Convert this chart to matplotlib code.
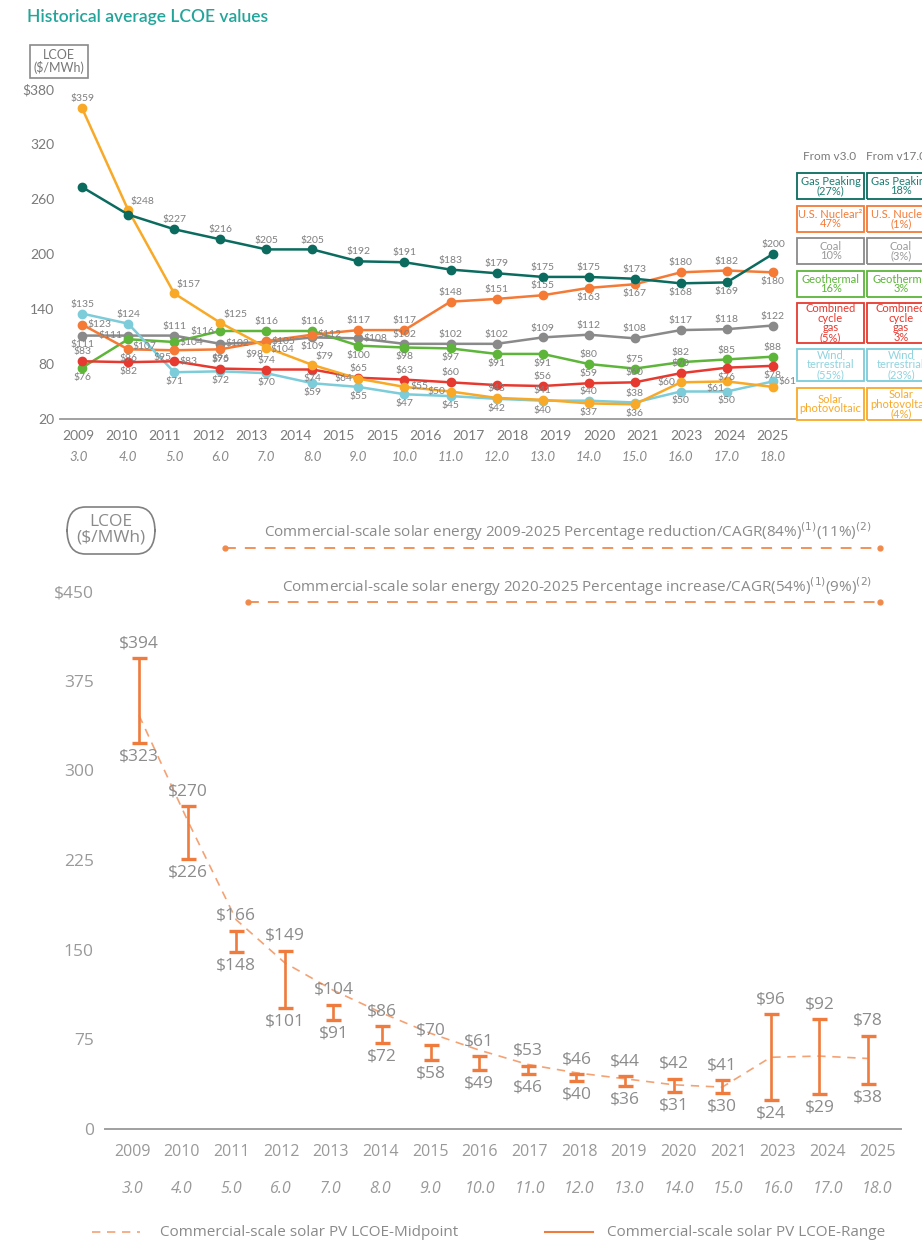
import numpy as np
import matplotlib
matplotlib.use("Agg")
import matplotlib.pyplot as plt
from matplotlib.patches import Rectangle, FancyBboxPatch
from matplotlib.lines import Line2D

W, H = 922, 1243

# ---------------- data: top chart ----------------
top_years = ["2009", "2010", "2011", "2012", "2013", "2014", "2015", "2015", "2016",
             "2017", "2018", "2019", "2020", "2021", "2023", "2024", "2025"]
versions = ["3.0", "4.0", "5.0", "6.0", "7.0", "8.0", "9.0", "10.0", "11.0",
            "12.0", "13.0", "14.0", "15.0", "16.0", "17.0", "18.0"]

gas_peaking = [273, 243, 227, 216, 205, 205, 192, 191, 183, 179, 175, 175, 173, 168, 169, 200]
nuclear = [123, 96, 95, 96, 105, 112, 117, 117, 148, 151, 155, 163, 167, 180, 182, 180]
coal = [111, 111, 111, 102, 104, 109, 108, 102, 102, 102, 109, 112, 108, 117, 118, 122]
geothermal = [76, 107, 104, 116, 116, 116, 100, 98, 97, 91, 91, 80, 75, 82, 85, 88]
ccgas = [83, 82, 83, 75, 74, 74, 65, 63, 60, 57, 56, 59, 60, 70, 76, 78]
wind = [135, 124, 71, 72, 70, 59, 55, 47, 45, 42, 40, 40, 38, 50, 50, 61]
solar = [359, 248, 157, 125, 98, 79, 64, 55, 50, 43, 41, 37, 36, 60, 61, 55]

legend_names = ["Gas Peaking", "U.S. Nuclear", "Coal", "Geothermal",
                "Combined\ncycle\ngas", "Wind\nterrestrial", "Solar\nphotovoltaic"]
change_v3 = ["(27%)", "47%", "10%", "16%", "(5%)", "(55%)", ""]
change_v17 = ["18%", "(1%)", "(3%)", "3%", "3%", "(23%)", "(4%)"]

# ---------------- data: bottom chart ----------------
bot_years = ["2009", "2010", "2011", "2012", "2013", "2014", "2015", "2016",
             "2017", "2018", "2019", "2020", "2021", "2023", "2024", "2025"]
range_high = [394, 270, 166, 149, 104, 86, 70, 61, 53, 46, 44, 42, 41, 96, 92, 78]
range_low = [323, 226, 148, 101, 91, 72, 58, 49, 46, 40, 36, 31, 30, 24, 29, 38]
midpoint = [346, 258, 175, 139, 116, 97, 80, 66, 54, 47, 42, 37, 35, 60, 61, 59]

# ---------------- styles ----------------
colors = {
    "gas": "#0b6b5f", "nuc": "#f47a36", "coal": "#8a8a8a", "geo": "#5db53a",
    "ccg": "#e63a30", "wind": "#7cccd9", "solar": "#f8a927",
}
text_colors = ["#1f7d72", "#f47a36", "#9a9a9a", "#5db53a", "#e63a30", "#8fd3de", "#f8a927"]
ORANGE = "#ef7b3c"
GRAY = "#8c8c8c"
TOPFONT = ["Lato", "DejaVu Sans"]
BOTFONT = ["Open Sans", "DejaVu Sans"]

# label placement per point: a above, b below, l left, r right, ar/al/br/bl diagonals, n none
place = {
    "gas": ["n", "n"] + ["a"] * 11 + ["b", "b", "a"],
    "nuc": ["r", "b", "bl", "b", "r", "r", "a", "a", "a", "a", "a", "b", "b", "a", "a", "b"],
    "coal": ["b", "l", "a", "r", "br", "b", "r", "a", "a", "a", "a", "a", "a", "a", "a", "a"],
    "geo": ["b", "br", "r", "l", "a", "a", "b", "b", "b", "b", "b", "a", "a", "a", "a", "a"],
    "ccg": ["a", "b", "r", "a", "a", "b", "a", "a", "a", "n", "a", "a", "a", "a", "b", "b"],
    "wind": ["a", "a", "b", "b", "b", "b", "b", "b", "b", "b", "b", "a", "a", "b", "b", "r"],
    "solar": ["a", "ar", "ar", "ar", "bl", "ar", "l", "r", "l", "a", "a", "b", "b", "l", "bl", "n"],
}
offsets = {
    "a": ((0, 3.5), "center", "bottom"), "b": ((0, -3.5), "center", "top"),
    "l": ((-4, 0), "right", "center"), "r": ((4, 0), "left", "center"),
    "ar": ((2, 3), "left", "bottom"), "al": ((-2, 3), "right", "bottom"),
    "br": ((3, -2), "left", "top"), "bl": ((-2, -2), "right", "top"),
}


def fx(x):
    return x / W


def fy(y):
    return 1 - y / H


fig = plt.figure(figsize=(W / 100, H / 100), dpi=100)
fig.patch.set_facecolor("white")

# ================= TOP CHART =================
fig.text(fx(27), fy(17), "Historical average LCOE values", color="#22a59a",
         fontsize=12.5, fontweight="semibold", family=TOPFONT, ha="left", va="center")

fig.add_artist(Rectangle((fx(30), fy(78)), fx(88) - fx(30), fy(45) - fy(78),
                         transform=fig.transFigure, fill=False, ec="#8a8a8a", lw=1.2))
fig.text(fx(59), fy(61.5), "LCOE\n($/MWh)", color="#777777", fontsize=9,
         family=TOPFONT, ha="center", va="center", linespacing=1.0)

ax1 = fig.add_axes([fx(60), fy(419), fx(795) - fx(60), fy(89) - fy(419)])
ax1.set_xlim(-0.48, 15.48)
ax1.set_ylim(20, 380)
for s in ["top", "right", "left"]:
    ax1.spines[s].set_visible(False)
ax1.spines["bottom"].set_color("#9a9a9a")
ax1.spines["bottom"].set_linewidth(1.3)
ax1.set_xticks([])
ax1.set_yticks(np.arange(20, 381, 60))
ax1.set_yticklabels(["20", "80", "140", "200", "260", "320", "$380"])
ax1.tick_params(axis="y", length=0, pad=4, labelsize=10, labelcolor="#7a7a7a")
for lab in ax1.get_yticklabels():
    lab.set_family(TOPFONT)

x = np.arange(len(versions))
series = [("coal", coal), ("geo", geothermal), ("nuc", nuclear), ("wind", wind),
          ("ccg", ccgas), ("solar", solar), ("gas", gas_peaking)]
for key, vals in series:
    ax1.plot(x, vals, color=colors[key], lw=1.8, marker="o", ms=6, clip_on=False, zorder=3)
    for i, v in enumerate(vals):
        code = place[key][i]
        if code == "n":
            continue
        (dx, dy), ha, va = offsets[code]
        ax1.annotate(f"${v}", (i, v), xytext=(dx, dy), textcoords="offset points",
                     ha=ha, va=va, fontsize=7.5, color="#808080", family=TOPFONT, zorder=4)

year_pos = np.linspace(-0.09, 15.0, len(top_years))
for p, yr in zip(year_pos, top_years):
    ax1.text(p, -(436 - 419) / 330, yr, transform=ax1.get_xaxis_transform(),
             ha="center", va="center", fontsize=10, color="#7a7a7a", family=TOPFONT)
for i, v in enumerate(versions):
    ax1.text(i - (0.07 if i == 0 else 0), -(457 - 419) / 330, v, transform=ax1.get_xaxis_transform(),
             ha="center", va="center", fontsize=9.5, color="#8a8a8a", style="italic", family=TOPFONT)

# legend boxes on the right
fig.text(fx(830), fy(157), "From v3.0", color="#7a7a7a", fontsize=8.5, family=TOPFONT,
         ha="center", va="center")
fig.text(fx(866), fy(157), "From v17.0", color="#7a7a7a", fontsize=8.5, family=TOPFONT,
         ha="left", va="center")
rows = [(173, 199), (206, 232), (238, 264), (271, 297), (303, 343), (349, 381), (388, 420)]
edge_colors = [colors[k] for k in ["gas", "nuc", "coal", "geo", "ccg", "wind", "solar"]]
for r, (y0, y1) in enumerate(rows):
    name1 = legend_names[r] + ("\u00b2" if r == 1 else "")
    t1 = name1 + ("\n" + change_v3[r] if change_v3[r] else "")
    t2 = legend_names[r] + "\n" + change_v17[r]
    for (x0, x1), txt in [((797, 864), t1), ((867, 935), t2)]:
        fig.add_artist(Rectangle((fx(x0), fy(y1)), fx(x1) - fx(x0), fy(y0) - fy(y1),
                                 transform=fig.transFigure, fill=False,
                                 ec=edge_colors[r], lw=1.3))
        fig.text(fx((x0 + x1) / 2), fy((y0 + y1) / 2), txt, color=text_colors[r],
                 fontsize=8, family=TOPFONT, ha="center", va="center", linespacing=0.88)

# ================= BOTTOM CHART =================
fig.add_artist(FancyBboxPatch((fx(67), fy(554)), fx(155) - fx(67), fy(507) - fy(554),
                              boxstyle="round,pad=0,rounding_size=0.02",
                              transform=fig.transFigure, fill=False, ec="#808080", lw=1.2))
fig.text(fx(111), fy(530), "LCOE\n($/MWh)", color="#8a8a8a", fontsize=12.5,
         family=BOTFONT, ha="center", va="center", linespacing=1.0)

notes = [
    (532, 548, 225, "Commercial-scale solar energy 2009-2025 Percentage reduction/CAGR"
                    "(84%)$^{(1)}$(11%)$^{(2)}$"),
    (587, 602, 248, "Commercial-scale solar energy 2020-2025 Percentage increase/CAGR"
                    "(54%)$^{(1)}$(9%)$^{(2)}$"),
]
for ty, ly, lx0, txt in notes:
    fig.text(fx(872), fy(ty), txt, color="#8a8a8a", fontsize=11, family=BOTFONT,
             ha="right", va="center")
    fig.add_artist(Line2D([fx(lx0), fx(880)], [fy(ly), fy(ly)], transform=fig.transFigure,
                          color="#f08a4b", lw=1.3, ls=(0, (6, 5))))
    fig.add_artist(Line2D([fx(lx0), fx(880)], [fy(ly), fy(ly)], transform=fig.transFigure,
                          color="#f08a4b", lw=0, marker="o", ms=3.5))

ax2 = fig.add_axes([fx(105), fy(1129), fx(901) - fx(105), fy(591) - fy(1129)])
ax2.set_xlim(-0.70, 15.68)
ax2.set_ylim(0, 450)
for s in ["top", "right", "left"]:
    ax2.spines[s].set_visible(False)
ax2.spines["bottom"].set_color("#a0a0a0")
ax2.spines["bottom"].set_linewidth(1.4)
ax2.set_xticks([])
ax2.set_yticks(np.arange(0, 451, 75))
ax2.set_yticklabels(["0", "75", "150", "225", "300", "375", "$450"])
ax2.tick_params(axis="y", length=0, pad=8, labelsize=12.5, labelcolor="#9a9a9a")
for lab in ax2.get_yticklabels():
    lab.set_family(BOTFONT)

xb = np.arange(len(bot_years))
lo = np.array(range_low)
hi = np.array(range_high)
ax2.plot(xb, midpoint, color="#f4a274", lw=1.2, ls=(0, (5, 4)), zorder=2)
ax2.errorbar(xb, (lo + hi) / 2, yerr=(hi - lo) / 2, fmt="none", ecolor=ORANGE,
             elinewidth=1.9, capsize=5.4, capthick=2.4, zorder=3)
for i in range(len(xb)):
    ax2.annotate(f"${hi[i]}", (i, hi[i]), xytext=(0, 5), textcoords="offset points",
                 ha="center", va="bottom", fontsize=12.5, color=GRAY, family=BOTFONT)
    ax2.annotate(f"${lo[i]}", (i, lo[i]), xytext=(0, -4), textcoords="offset points",
                 ha="center", va="top", fontsize=12.5, color=GRAY, family=BOTFONT)

bot_pos = np.linspace(-0.14, 15.19, len(bot_years))
for p, yr, v in zip(bot_pos, bot_years, versions):
    ax2.text(p, -(1152 - 1129) / 538, yr, transform=ax2.get_xaxis_transform(),
             ha="center", va="center", fontsize=11.5, color="#999999", family=BOTFONT)
    ax2.text(p, -(1189 - 1129) / 538, v, transform=ax2.get_xaxis_transform(),
             ha="center", va="center", fontsize=11.5, color="#999999", style="italic",
             family=BOTFONT)

# legend
fig.add_artist(Line2D([fx(92), fx(140)], [fy(1232), fy(1232)], transform=fig.transFigure,
                      color="#f4a274", lw=1.2, ls=(0, (5, 4))))
fig.text(fx(160), fy(1232), "Commercial-scale solar PV LCOE-Midpoint", color="#8a8a8a",
         fontsize=11, family=BOTFONT, ha="left", va="center")
fig.add_artist(Line2D([fx(545), fx(593)], [fy(1232), fy(1232)], transform=fig.transFigure,
                      color=ORANGE, lw=1.5))
fig.text(fx(607), fy(1232), "Commercial-scale solar PV LCOE-Range", color="#8a8a8a",
         fontsize=11, family=BOTFONT, ha="left", va="center")

fig.savefig("out.png", dpi=100, facecolor="white")
